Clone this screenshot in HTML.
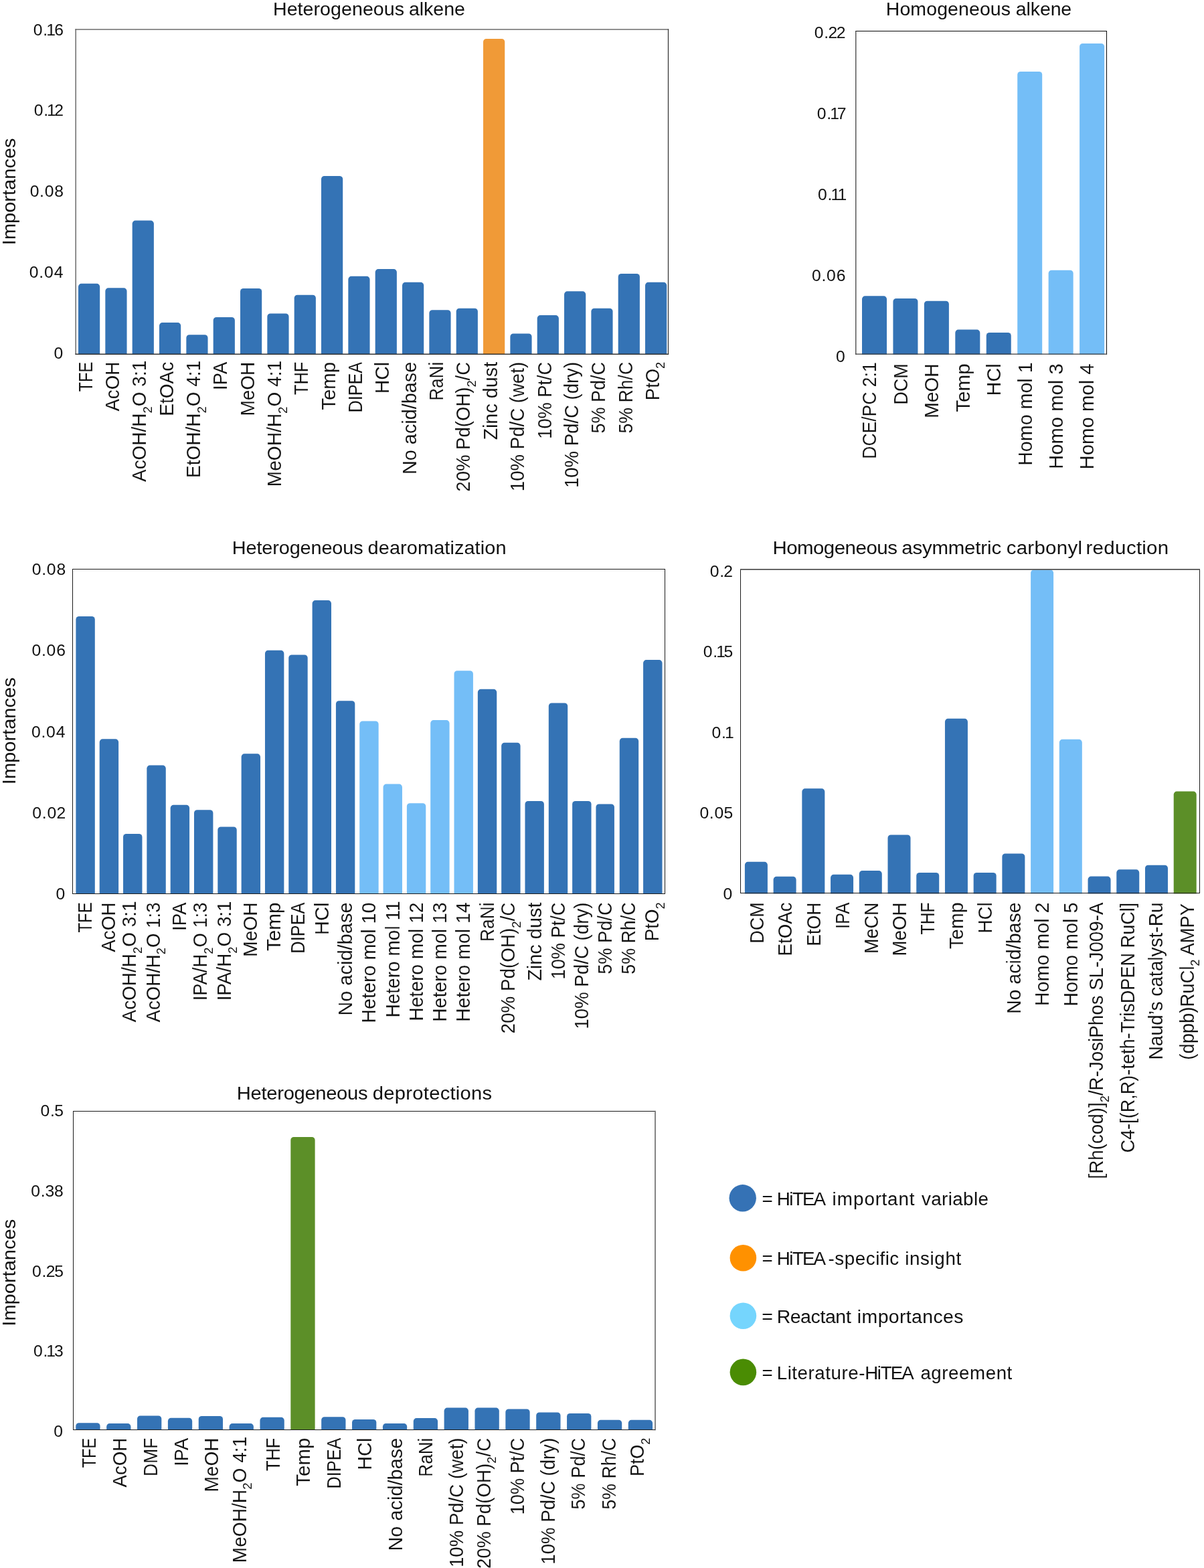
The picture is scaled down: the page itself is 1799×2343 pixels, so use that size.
<!DOCTYPE html>
<html lang="en">
<head>
<meta charset="utf-8">
<title>HiTEA variable importances</title>
<style>
html,body{margin:0;padding:0;background:#fff;}
body{width:1799px;height:2343px;overflow:hidden;font-family:"Liberation Sans", sans-serif;}
svg{display:block;}
text{white-space:pre;}
text.lb{stroke:#fff;stroke-width:0.08px;}
</style>
</head>
<body>
<svg width="1799" height="2343" viewBox="0 0 1799 2343" font-family='"Liberation Sans", sans-serif' fill="#111">
<g id="chart1">
<path fill="#3473b5" d="M117 529.7V428.4A4.6 4.6 0 0 1 121.6 423.8H144.6A4.6 4.6 0 0 1 149.2 428.4V529.7Z"/>
<path fill="#3473b5" d="M157.34 529.7V434.9A4.6 4.6 0 0 1 161.94 430.3H184.94A4.6 4.6 0 0 1 189.54 434.9V529.7Z"/>
<path fill="#3473b5" d="M197.67 529.7V334.2A4.6 4.6 0 0 1 202.27 329.6H225.27A4.6 4.6 0 0 1 229.87 334.2V529.7Z"/>
<path fill="#3473b5" d="M238 529.7V486.7A4.6 4.6 0 0 1 242.6 482.1H265.6A4.6 4.6 0 0 1 270.2 486.7V529.7Z"/>
<path fill="#3473b5" d="M278.34 529.7V504.8A4.6 4.6 0 0 1 282.94 500.2H305.94A4.6 4.6 0 0 1 310.54 504.8V529.7Z"/>
<path fill="#3473b5" d="M318.68 529.7V478.5A4.6 4.6 0 0 1 323.28 473.9H346.27A4.6 4.6 0 0 1 350.88 478.5V529.7Z"/>
<path fill="#3473b5" d="M359.01 529.7V435.5A4.6 4.6 0 0 1 363.61 430.9H386.61A4.6 4.6 0 0 1 391.21 435.5V529.7Z"/>
<path fill="#3473b5" d="M399.35 529.7V473A4.6 4.6 0 0 1 403.95 468.4H426.94A4.6 4.6 0 0 1 431.55 473V529.7Z"/>
<path fill="#3473b5" d="M439.68 529.7V445.3A4.6 4.6 0 0 1 444.28 440.7H467.28A4.6 4.6 0 0 1 471.88 445.3V529.7Z"/>
<path fill="#3473b5" d="M480.01 529.7V267.6A4.6 4.6 0 0 1 484.62 263H507.62A4.6 4.6 0 0 1 512.22 267.6V529.7Z"/>
<path fill="#3473b5" d="M520.35 529.7V417.4A4.6 4.6 0 0 1 524.95 412.8H547.95A4.6 4.6 0 0 1 552.55 417.4V529.7Z"/>
<path fill="#3473b5" d="M560.68 529.7V406.7A4.6 4.6 0 0 1 565.28 402.1H588.28A4.6 4.6 0 0 1 592.88 406.7V529.7Z"/>
<path fill="#3473b5" d="M601.02 529.7V426.4A4.6 4.6 0 0 1 605.62 421.8H628.62A4.6 4.6 0 0 1 633.22 426.4V529.7Z"/>
<path fill="#3473b5" d="M641.36 529.7V467.8A4.6 4.6 0 0 1 645.96 463.2H668.96A4.6 4.6 0 0 1 673.56 467.8V529.7Z"/>
<path fill="#3473b5" d="M681.69 529.7V465.3A4.6 4.6 0 0 1 686.29 460.7H709.29A4.6 4.6 0 0 1 713.89 465.3V529.7Z"/>
<path fill="#f09a37" d="M722.02 529.7V62.5A4.6 4.6 0 0 1 726.62 57.9H749.62A4.6 4.6 0 0 1 754.23 62.5V529.7Z"/>
<path fill="#3473b5" d="M762.36 529.7V503.1A4.6 4.6 0 0 1 766.96 498.5H789.96A4.6 4.6 0 0 1 794.56 503.1V529.7Z"/>
<path fill="#3473b5" d="M802.7 529.7V475.7A4.6 4.6 0 0 1 807.3 471.1H830.3A4.6 4.6 0 0 1 834.9 475.7V529.7Z"/>
<path fill="#3473b5" d="M843.03 529.7V439.9A4.6 4.6 0 0 1 847.63 435.3H870.63A4.6 4.6 0 0 1 875.23 439.9V529.7Z"/>
<path fill="#3473b5" d="M883.37 529.7V465.3A4.6 4.6 0 0 1 887.97 460.7H910.97A4.6 4.6 0 0 1 915.57 465.3V529.7Z"/>
<path fill="#3473b5" d="M923.7 529.7V413.6A4.6 4.6 0 0 1 928.3 409H951.3A4.6 4.6 0 0 1 955.9 413.6V529.7Z"/>
<path fill="#3473b5" d="M964.03 529.7V426.4A4.6 4.6 0 0 1 968.63 421.8H991.63A4.6 4.6 0 0 1 996.24 426.4V529.7Z"/>
<path d="M113.2 44H998.5" fill="none" stroke="#6b6b6b" stroke-width="1.5" stroke-linecap="square"/>
<path d="M113.2 44V529.2" fill="none" stroke="#6b6b6b" stroke-width="1.5" stroke-linecap="square"/>
<path d="M998.5 44V529.2" fill="none" stroke="#333" stroke-width="1.25" stroke-linecap="square"/>
<path d="M113.2 529.2H998.5" fill="none" stroke="#333" stroke-width="1.35" stroke-linecap="square"/>
<text transform="scale(1.0515 1)" x="387.97 407.67 422.83 430.42 445.58 454.68 469.85 485.03 500.2 515.37 530.54 545.72 560.89 574.49 580.97 596.06 602.06 615.62 630.69 645.77" y="23" font-size="27.2">Heterogeneous alkene</text>
<text class="tk" transform="scale(1.03 1)" x="48.33 62.39 67.16 78.81" y="52.7" font-size="24.0">0.16</text>
<text class="tk" transform="scale(1.03 1)" x="49.25 63.32 68.08 78.96" y="173.45" font-size="24.0">0.12</text>
<text class="tk" transform="scale(1.03 1)" x="43.33 57.39 64.78 78.96" y="294.2" font-size="24.0">0.08</text>
<text class="tk" transform="scale(1.03 1)" x="42.6 56.67 64.05 78.33" y="414.95" font-size="24.0">0.04</text>
<text class="tk" transform="scale(1.03 1)" x="78.18" y="535.7" font-size="24.0">0</text>
<text transform="translate(23.1 366.17) rotate(-90) scale(1.0675 1)" font-size="27.2">Importances</text>
<text class="lb" transform="translate(137.8 585.37) rotate(-90) scale(0.8222 1)" font-size="28.7">TFE</text>
<text class="lb" transform="translate(178.13 614.6) rotate(-90) scale(0.9642 1)" font-size="28.7">AcOH</text>
<text class="lb" transform="translate(218.47 720) rotate(-90) scale(0.9742 1)" font-size="28.7">AcOH/H<tspan font-size="19.0" dy="8.4" stroke-width="0">2</tspan><tspan dy="-8.4">O 3:1</tspan></text>
<text class="lb" transform="translate(258.81 621.79) rotate(-90) scale(0.9766 1)" font-size="28.7">EtOAc</text>
<text class="lb" transform="translate(299.14 713.89) rotate(-90) scale(0.9747 1)" font-size="28.7">EtOH/H<tspan font-size="19.0" dy="8.4" stroke-width="0">2</tspan><tspan dy="-8.4">O 4:1</tspan></text>
<text class="lb" transform="translate(339.48 582.94) rotate(-90) scale(0.9550 1)" font-size="28.7">IPA</text>
<text class="lb" transform="translate(379.81 621.58) rotate(-90) scale(0.9743 1)" font-size="28.7">MeOH</text>
<text class="lb" transform="translate(420.15 727.2) rotate(-90) scale(0.9793 1)" font-size="28.7">MeOH/H<tspan font-size="19.0" dy="8.4" stroke-width="0">2</tspan><tspan dy="-8.4">O 4:1</tspan></text>
<text class="lb" transform="translate(460.48 590.1) rotate(-90) scale(0.8836 1)" font-size="28.7">THF</text>
<text class="lb" transform="translate(500.81 612.76) rotate(-90) scale(1.0254 1)" font-size="28.7">Temp</text>
<text class="lb" transform="translate(541.15 616.57) rotate(-90) scale(0.8798 1)" font-size="28.7">DIPEA</text>
<text class="lb" transform="translate(581.49 588.22) rotate(-90) scale(0.9915 1)" font-size="28.7">HCl</text>
<text class="lb" transform="translate(621.82 708.95) rotate(-90) scale(1.0038 1)" font-size="28.7">No acid/base</text>
<text class="lb" transform="translate(662.16 598.74) rotate(-90) scale(0.9082 1)" font-size="28.7">RaNi</text>
<text class="lb" transform="translate(702.49 734.69) rotate(-90) scale(0.9601 1)" font-size="28.7">20% Pd(OH)<tspan font-size="19.0" dy="8.4" stroke-width="0">2</tspan><tspan dy="-8.4">/C</tspan></text>
<text class="lb" transform="translate(742.83 657.6) rotate(-90) scale(1.0031 1)" font-size="28.7">Zinc dust</text>
<text class="lb" transform="translate(783.16 734.13) rotate(-90) scale(0.9620 1)" font-size="28.7">10% Pd/C (wet)</text>
<text class="lb" transform="translate(823.5 655.7) rotate(-90) scale(0.9478 1)" font-size="28.7">10% Pt/C</text>
<text class="lb" transform="translate(863.83 729.12) rotate(-90) scale(0.9600 1)" font-size="28.7">10% Pd/C (dry)</text>
<text class="lb" transform="translate(904.17 647.55) rotate(-90) scale(0.9425 1)" font-size="28.7">5% Pd/C</text>
<text class="lb" transform="translate(944.5 647.53) rotate(-90) scale(0.9294 1)" font-size="28.7">5% Rh/C</text>
<text class="lb" transform="translate(984.84 598.14) rotate(-90) scale(0.9556 1)" font-size="28.7">PtO<tspan font-size="19.0" dy="8.4" stroke-width="0">2</tspan></text>
</g>
<g id="chart2">
<path fill="#3473b5" d="M1288 529.7V446.9A4.6 4.6 0 0 1 1292.6 442.3H1320.4A4.6 4.6 0 0 1 1325 446.9V529.7Z"/>
<path fill="#3473b5" d="M1334.44 529.7V450.6A4.6 4.6 0 0 1 1339.04 446H1366.84A4.6 4.6 0 0 1 1371.44 450.6V529.7Z"/>
<path fill="#3473b5" d="M1380.88 529.7V454.3A4.6 4.6 0 0 1 1385.48 449.7H1413.28A4.6 4.6 0 0 1 1417.88 454.3V529.7Z"/>
<path fill="#3473b5" d="M1427.32 529.7V497.2A4.6 4.6 0 0 1 1431.92 492.6H1459.72A4.6 4.6 0 0 1 1464.32 497.2V529.7Z"/>
<path fill="#3473b5" d="M1473.76 529.7V501.5A4.6 4.6 0 0 1 1478.36 496.9H1506.16A4.6 4.6 0 0 1 1510.76 501.5V529.7Z"/>
<path fill="#74bef7" d="M1520.2 529.7V111.5A4.6 4.6 0 0 1 1524.8 106.9H1552.6A4.6 4.6 0 0 1 1557.2 111.5V529.7Z"/>
<path fill="#74bef7" d="M1566.64 529.7V408.3A4.6 4.6 0 0 1 1571.24 403.7H1599.04A4.6 4.6 0 0 1 1603.64 408.3V529.7Z"/>
<path fill="#74bef7" d="M1613.08 529.7V69.5A4.6 4.6 0 0 1 1617.68 64.9H1645.48A4.6 4.6 0 0 1 1650.08 69.5V529.7Z"/>
<path d="M1278.8 46.5H1653.5" fill="none" stroke="#0a0a0a" stroke-width="1" stroke-linecap="square"/>
<path d="M1278.8 46.5V529.2" fill="none" stroke="#383838" stroke-width="1.25" stroke-linecap="square"/>
<path d="M1653.5 46.5V529.2" fill="none" stroke="#0a0a0a" stroke-width="1" stroke-linecap="square"/>
<path d="M1278.8 529.2H1653.5" fill="none" stroke="#383838" stroke-width="1.25" stroke-linecap="square"/>
<text transform="scale(1.0471 1)" x="1264.18 1283.93 1299.18 1321.95 1337.18 1352.4 1367.62 1382.85 1398.07 1413.3 1428.52 1442.12 1449.49 1464.54 1470.51 1484.01 1499.03 1514.06" y="23" font-size="27.2">Homogeneous alkene</text>
<text class="tk" transform="scale(1.03 1)" x="1181.43 1195.5 1201.43 1213.47" y="56.6" font-size="24.0">0.22</text>
<text class="tk" transform="scale(1.03 1)" x="1185.27 1199.34 1204.1 1214.2" y="177.62" font-size="24.0">0.17</text>
<text class="tk" transform="scale(1.03 1)" x="1186.53 1200.6 1205.37 1215.07" y="298.65" font-size="24.0">0.11</text>
<text class="tk" transform="scale(1.03 1)" x="1177.6 1191.67 1199.05 1213.33" y="419.67" font-size="24.0">0.06</text>
<text class="tk" transform="scale(1.03 1)" x="1212.7" y="540.7" font-size="24.0">0</text>
<text class="lb" transform="translate(1309.3 685.67) rotate(-90) scale(0.9236 1)" font-size="28.7">DCE/PC 2:1</text>
<text class="lb" transform="translate(1355.74 604.71) rotate(-90) scale(0.9395 1)" font-size="28.7">DCM</text>
<text class="lb" transform="translate(1402.18 624.8) rotate(-90) scale(0.9829 1)" font-size="28.7">MeOH</text>
<text class="lb" transform="translate(1448.62 615.66) rotate(-90) scale(1.0311 1)" font-size="28.7">Temp</text>
<text class="lb" transform="translate(1495.06 591.46) rotate(-90) scale(1.0069 1)" font-size="28.7">HCl</text>
<text class="lb" transform="translate(1541.5 695.84) rotate(-90) scale(0.9989 1)" font-size="28.7">Homo mol 1</text>
<text class="lb" transform="translate(1587.94 700.88) rotate(-90) scale(1.0186 1)" font-size="28.7">Homo mol 3</text>
<text class="lb" transform="translate(1634.38 701.49) rotate(-90) scale(1.0225 1)" font-size="28.7">Homo mol 4</text>
</g>
<g id="chart3">
<path fill="#3473b5" d="M113.4 1336V925.6A4.6 4.6 0 0 1 118 921H137.2A4.6 4.6 0 0 1 141.8 925.6V1336Z"/>
<path fill="#3473b5" d="M148.72 1336V1108.9A4.6 4.6 0 0 1 153.32 1104.3H172.52A4.6 4.6 0 0 1 177.12 1108.9V1336Z"/>
<path fill="#3473b5" d="M184.04 1336V1250.6A4.6 4.6 0 0 1 188.64 1246H207.84A4.6 4.6 0 0 1 212.44 1250.6V1336Z"/>
<path fill="#3473b5" d="M219.36 1336V1148.2A4.6 4.6 0 0 1 223.96 1143.6H243.16A4.6 4.6 0 0 1 247.76 1148.2V1336Z"/>
<path fill="#3473b5" d="M254.68 1336V1207.4A4.6 4.6 0 0 1 259.28 1202.8H278.48A4.6 4.6 0 0 1 283.08 1207.4V1336Z"/>
<path fill="#3473b5" d="M290 1336V1214.8A4.6 4.6 0 0 1 294.6 1210.2H313.8A4.6 4.6 0 0 1 318.4 1214.8V1336Z"/>
<path fill="#3473b5" d="M325.32 1336V1240.1A4.6 4.6 0 0 1 329.92 1235.5H349.12A4.6 4.6 0 0 1 353.72 1240.1V1336Z"/>
<path fill="#3473b5" d="M360.64 1336V1130.9A4.6 4.6 0 0 1 365.24 1126.3H384.44A4.6 4.6 0 0 1 389.04 1130.9V1336Z"/>
<path fill="#3473b5" d="M395.96 1336V976.4A4.6 4.6 0 0 1 400.56 971.8H419.76A4.6 4.6 0 0 1 424.36 976.4V1336Z"/>
<path fill="#3473b5" d="M431.28 1336V983A4.6 4.6 0 0 1 435.88 978.4H455.08A4.6 4.6 0 0 1 459.68 983V1336Z"/>
<path fill="#3473b5" d="M466.6 1336V901.7A4.6 4.6 0 0 1 471.2 897.1H490.4A4.6 4.6 0 0 1 495 901.7V1336Z"/>
<path fill="#3473b5" d="M501.92 1336V1051.8A4.6 4.6 0 0 1 506.52 1047.2H525.72A4.6 4.6 0 0 1 530.32 1051.8V1336Z"/>
<path fill="#74bef7" d="M537.24 1336V1082A4.6 4.6 0 0 1 541.84 1077.4H561.04A4.6 4.6 0 0 1 565.64 1082V1336Z"/>
<path fill="#74bef7" d="M572.56 1336V1176.2A4.6 4.6 0 0 1 577.16 1171.6H596.36A4.6 4.6 0 0 1 600.96 1176.2V1336Z"/>
<path fill="#74bef7" d="M607.88 1336V1204.8A4.6 4.6 0 0 1 612.48 1200.2H631.68A4.6 4.6 0 0 1 636.28 1204.8V1336Z"/>
<path fill="#74bef7" d="M643.2 1336V1080.7A4.6 4.6 0 0 1 647.8 1076.1H667A4.6 4.6 0 0 1 671.6 1080.7V1336Z"/>
<path fill="#74bef7" d="M678.52 1336V1006.8A4.6 4.6 0 0 1 683.12 1002.2H702.32A4.6 4.6 0 0 1 706.92 1006.8V1336Z"/>
<path fill="#3473b5" d="M713.84 1336V1034.4A4.6 4.6 0 0 1 718.44 1029.8H737.64A4.6 4.6 0 0 1 742.24 1034.4V1336Z"/>
<path fill="#3473b5" d="M749.16 1336V1114.4A4.6 4.6 0 0 1 753.76 1109.8H772.96A4.6 4.6 0 0 1 777.56 1114.4V1336Z"/>
<path fill="#3473b5" d="M784.48 1336V1201.6A4.6 4.6 0 0 1 789.08 1197H808.28A4.6 4.6 0 0 1 812.88 1201.6V1336Z"/>
<path fill="#3473b5" d="M819.8 1336V1055A4.6 4.6 0 0 1 824.4 1050.4H843.6A4.6 4.6 0 0 1 848.2 1055V1336Z"/>
<path fill="#3473b5" d="M855.12 1336V1201.6A4.6 4.6 0 0 1 859.72 1197H878.92A4.6 4.6 0 0 1 883.52 1201.6V1336Z"/>
<path fill="#3473b5" d="M890.44 1336V1206.1A4.6 4.6 0 0 1 895.04 1201.5H913.34A4.6 4.6 0 0 1 917.94 1206.1V1336Z"/>
<path fill="#3473b5" d="M925.76 1336V1107.4A4.6 4.6 0 0 1 930.36 1102.8H949.56A4.6 4.6 0 0 1 954.16 1107.4V1336Z"/>
<path fill="#3473b5" d="M961.08 1336V990.7A4.6 4.6 0 0 1 965.68 986.1H984.88A4.6 4.6 0 0 1 989.48 990.7V1336Z"/>
<rect x="108.5" y="850.5" width="885" height="485" fill="none" stroke="#1c1c1c" stroke-width="1"/>
<text transform="scale(1.0611 1)" x="326.79 346.29 361.32 368.78 383.81 392.76 407.76 422.77 437.77 452.77 467.77 482.77 497.78 511.38 517.88 533.13 548.38 563.61 572.77 588.05 610.86 626.08 633.7 639.82 653.54 668.76 676.38 682.51 697.77" y="827.6" font-size="27.2">Heterogeneous dearomatization</text>
<text class="tk" transform="scale(1.03 1)" x="46.29 60.36 67.74 81.92" y="858.9" font-size="24.0">0.08</text>
<text class="tk" transform="scale(1.03 1)" x="46.04 60.11 67.5 81.77" y="980.25" font-size="24.0">0.06</text>
<text class="tk" transform="scale(1.03 1)" x="45.56 59.63 67.02 81.29" y="1101.6" font-size="24.0">0.04</text>
<text class="tk" transform="scale(1.03 1)" x="46.97 61.03 68.42 81.92" y="1222.95" font-size="24.0">0.02</text>
<text class="tk" transform="scale(1.03 1)" x="81.14" y="1344.3" font-size="24.0">0</text>
<text transform="translate(23.1 1172.17) rotate(-90) scale(1.0689 1)" font-size="27.2">Importances</text>
<text class="lb" transform="translate(136.9 1393.57) rotate(-90) scale(0.8334 1)" font-size="28.7">TFE</text>
<text class="lb" transform="translate(172 1422.7) rotate(-90) scale(0.9707 1)" font-size="28.7">AcOH</text>
<text class="lb" transform="translate(203.4 1527.5) rotate(-90) scale(0.9736 1)" font-size="28.7">AcOH/H<tspan font-size="19.0" dy="8.4" stroke-width="0">2</tspan><tspan dy="-8.4">O 3:1</tspan></text>
<text class="lb" transform="translate(238.6 1527.5) rotate(-90) scale(0.9629 1)" font-size="28.7">AcOH/H<tspan font-size="19.0" dy="8.4" stroke-width="0">2</tspan><tspan dy="-8.4">O 1:3</tspan></text>
<text class="lb" transform="translate(278 1391.07) rotate(-90) scale(0.9669 1)" font-size="28.7">IPA</text>
<text class="lb" transform="translate(309.4 1495.35) rotate(-90) scale(0.9567 1)" font-size="28.7">IPA/H<tspan font-size="19.0" dy="8.4" stroke-width="0">2</tspan><tspan dy="-8.4">O 1:3</tspan></text>
<text class="lb" transform="translate(345.1 1495.37) rotate(-90) scale(0.9699 1)" font-size="28.7">IPA/H<tspan font-size="19.0" dy="8.4" stroke-width="0">2</tspan><tspan dy="-8.4">O 3:1</tspan></text>
<text class="lb" transform="translate(384.3 1429.7) rotate(-90) scale(0.9805 1)" font-size="28.7">MeOH</text>
<text class="lb" transform="translate(419.4 1421.16) rotate(-90) scale(1.0368 1)" font-size="28.7">Temp</text>
<text class="lb" transform="translate(454.9 1424.69) rotate(-90) scale(0.8857 1)" font-size="28.7">DIPEA</text>
<text class="lb" transform="translate(490.6 1397.19) rotate(-90) scale(1.0200 1)" font-size="28.7">HCl</text>
<text class="lb" transform="translate(525.7 1517.77) rotate(-90) scale(1.0110 1)" font-size="28.7">No acid/base</text>
<text class="lb" transform="translate(561.4 1528.64) rotate(-90) scale(0.9999 1)" font-size="28.7">Hetero mol 10</text>
<text class="lb" transform="translate(596.6 1520.59) rotate(-90) scale(0.9779 1)" font-size="28.7">Hetero mol 11</text>
<text class="lb" transform="translate(632 1525.71) rotate(-90) scale(0.9836 1)" font-size="28.7">Hetero mol 12</text>
<text class="lb" transform="translate(667.1 1526.92) rotate(-90) scale(0.9904 1)" font-size="28.7">Hetero mol 13</text>
<text class="lb" transform="translate(702.3 1526.92) rotate(-90) scale(0.9904 1)" font-size="28.7">Hetero mol 14</text>
<text class="lb" transform="translate(737.7 1406.96) rotate(-90) scale(0.9180 1)" font-size="28.7">RaNi</text>
<text class="lb" transform="translate(769.4 1544.51) rotate(-90) scale(0.9711 1)" font-size="28.7">20% Pd(OH)<tspan font-size="19.0" dy="8.4" stroke-width="0">2</tspan><tspan dy="-8.4">/C</tspan></text>
<text class="lb" transform="translate(808.6 1465.8) rotate(-90) scale(1.0083 1)" font-size="28.7">Zinc dust</text>
<text class="lb" transform="translate(843.7 1463.5) rotate(-90) scale(0.9494 1)" font-size="28.7">10% Pt/C</text>
<text class="lb" transform="translate(879.1 1537.83) rotate(-90) scale(0.9656 1)" font-size="28.7">10% Pd/C (dry)</text>
<text class="lb" transform="translate(914.3 1455.75) rotate(-90) scale(0.9478 1)" font-size="28.7">5% Pd/C</text>
<text class="lb" transform="translate(949.4 1455.74) rotate(-90) scale(0.9347 1)" font-size="28.7">5% Rh/C</text>
<text class="lb" transform="translate(984.3 1406.26) rotate(-90) scale(0.9643 1)" font-size="28.7">PtO<tspan font-size="19.0" dy="8.4" stroke-width="0">2</tspan></text>
</g>
<g id="chart4">
<path fill="#3473b5" d="M1112.9 1335.6V1292.4A4.6 4.6 0 0 1 1117.5 1287.8H1142.3A4.6 4.6 0 0 1 1146.9 1292.4V1335.6Z"/>
<path fill="#3473b5" d="M1155.62 1335.6V1314.4A4.6 4.6 0 0 1 1160.22 1309.8H1185.02A4.6 4.6 0 0 1 1189.62 1314.4V1335.6Z"/>
<path fill="#3473b5" d="M1198.34 1335.6V1182.9A4.6 4.6 0 0 1 1202.94 1178.3H1227.74A4.6 4.6 0 0 1 1232.34 1182.9V1335.6Z"/>
<path fill="#3473b5" d="M1241.06 1335.6V1311.4A4.6 4.6 0 0 1 1245.66 1306.8H1270.46A4.6 4.6 0 0 1 1275.06 1311.4V1335.6Z"/>
<path fill="#3473b5" d="M1283.78 1335.6V1305.7A4.6 4.6 0 0 1 1288.38 1301.1H1313.18A4.6 4.6 0 0 1 1317.78 1305.7V1335.6Z"/>
<path fill="#3473b5" d="M1326.5 1335.6V1252A4.6 4.6 0 0 1 1331.1 1247.4H1355.9A4.6 4.6 0 0 1 1360.5 1252V1335.6Z"/>
<path fill="#3473b5" d="M1369.22 1335.6V1308.5A4.6 4.6 0 0 1 1373.82 1303.9H1398.62A4.6 4.6 0 0 1 1403.22 1308.5V1335.6Z"/>
<path fill="#3473b5" d="M1411.94 1335.6V1078.4A4.6 4.6 0 0 1 1416.54 1073.8H1441.34A4.6 4.6 0 0 1 1445.94 1078.4V1335.6Z"/>
<path fill="#3473b5" d="M1454.66 1335.6V1308.5A4.6 4.6 0 0 1 1459.26 1303.9H1484.06A4.6 4.6 0 0 1 1488.66 1308.5V1335.6Z"/>
<path fill="#3473b5" d="M1497.38 1335.6V1280.1A4.6 4.6 0 0 1 1501.98 1275.5H1526.78A4.6 4.6 0 0 1 1531.38 1280.1V1335.6Z"/>
<path fill="#74bef7" d="M1540.1 1335.6V856A4.6 4.6 0 0 1 1544.7 851.4H1569.5A4.6 4.6 0 0 1 1574.1 856V1335.6Z"/>
<path fill="#74bef7" d="M1582.82 1335.6V1109.4A4.6 4.6 0 0 1 1587.42 1104.8H1612.22A4.6 4.6 0 0 1 1616.82 1109.4V1335.6Z"/>
<path fill="#3473b5" d="M1625.54 1335.6V1314.2A4.6 4.6 0 0 1 1630.14 1309.6H1654.94A4.6 4.6 0 0 1 1659.54 1314.2V1335.6Z"/>
<path fill="#3473b5" d="M1668.26 1335.6V1303.9A4.6 4.6 0 0 1 1672.86 1299.3H1697.66A4.6 4.6 0 0 1 1702.26 1303.9V1335.6Z"/>
<path fill="#3473b5" d="M1710.98 1335.6V1297.3A4.6 4.6 0 0 1 1715.58 1292.7H1740.38A4.6 4.6 0 0 1 1744.98 1297.3V1335.6Z"/>
<path fill="#5c8f28" d="M1753.7 1335.6V1187.2A4.6 4.6 0 0 1 1758.3 1182.6H1783.1A4.6 4.6 0 0 1 1787.7 1187.2V1335.6Z"/>
<rect x="1106.5" y="850.5" width="686" height="484" fill="none" stroke="#1c1c1c" stroke-width="1"/>
<path d="M1106 851H1793" fill="none" stroke="#5a5a5a" stroke-width="1.7"/>
<text transform="scale(1.0833 1)" x="1065.73 1084.85 1099.42 1121.51 1136.18 1150.85 1165.52 1180.19 1194.86 1209.53 1224.22 1237.82 1243.69 1258.63 1272.06 1285.43 1307.81 1330.23 1345.21 1352.66 1361.61 1367.52 1381.12 1388.06 1401.93 1417.29 1426.57 1441.98 1457.39 1472.79 1486.57 1492.62 1497.71 1507.06 1522.54 1538.02 1553.49 1567.35 1575.08 1581.38 1596.86" y="827.7" font-size="27.2">Homogeneous asymmetric carbonyl reduction</text>
<text class="tk" transform="scale(1.03 1)" x="1029.83 1043.9 1049.83" y="862" font-size="24.0">0.2</text>
<text class="tk" transform="scale(1.03 1)" x="1020.17 1034.24 1039.01 1050.07" y="982.45" font-size="24.0">0.15</text>
<text class="tk" transform="scale(1.03 1)" x="1032.6 1046.67 1051.43" y="1102.9" font-size="24.0">0.1</text>
<text class="tk" transform="scale(1.03 1)" x="1014.93 1029 1036.38 1050.07" y="1223.35" font-size="24.0">0.05</text>
<text class="tk" transform="scale(1.03 1)" x="1049.05" y="1343.8" font-size="24.0">0</text>
<text class="lb" transform="translate(1141 1409.7) rotate(-90) scale(0.9379 1)" font-size="28.7">DCM</text>
<text class="lb" transform="translate(1183.1 1428.46) rotate(-90) scale(0.9654 1)" font-size="28.7">EtOAc</text>
<text class="lb" transform="translate(1225.9 1413.69) rotate(-90) scale(0.9304 1)" font-size="28.7">EtOH</text>
<text class="lb" transform="translate(1268.7 1388.12) rotate(-90) scale(0.9000 1)" font-size="28.7">IPA</text>
<text class="lb" transform="translate(1311.5 1425.12) rotate(-90) scale(0.9434 1)" font-size="28.7">MeCN</text>
<text class="lb" transform="translate(1354.2 1428.47) rotate(-90) scale(0.9656 1)" font-size="28.7">MeOH</text>
<text class="lb" transform="translate(1395.9 1396.39) rotate(-90) scale(0.8601 1)" font-size="28.7">THF</text>
<text class="lb" transform="translate(1439.2 1418.25) rotate(-90) scale(0.9952 1)" font-size="28.7">Temp</text>
<text class="lb" transform="translate(1481.9 1394.46) rotate(-90) scale(0.9630 1)" font-size="28.7">HCl</text>
<text class="lb" transform="translate(1524.7 1515.03) rotate(-90) scale(0.9947 1)" font-size="28.7">No acid/base</text>
<text class="lb" transform="translate(1567.4 1503.14) rotate(-90) scale(1.0002 1)" font-size="28.7">Homo mol 2</text>
<text class="lb" transform="translate(1610.2 1503.85) rotate(-90) scale(1.0048 1)" font-size="28.7">Homo mol 5</text>
<text class="lb" transform="translate(1648.2 1761.54) rotate(-90) scale(0.9678 1)" font-size="28.7">[Rh(cod)]<tspan font-size="19.0" dy="8.4" stroke-width="0">2</tspan><tspan dy="-8.4">/R-JosiPhos SL-J009-A</tspan></text>
<text class="lb" transform="translate(1694.5 1722.57) rotate(-90) scale(0.9449 1)" font-size="28.7">C4-[(R,R)-teth-TrisDPEN RuCl]</text>
<text class="lb" transform="translate(1737.3 1583.39) rotate(-90) scale(0.9778 1)" font-size="28.7">Naud’s catalyst-Ru</text>
<text class="lb" transform="translate(1783.6 1583.68) rotate(-90) scale(0.9540 1)" font-size="28.7">(dppb)RuCl<tspan font-size="19.0" dy="8.4" stroke-width="0">2</tspan><tspan dy="-8.4"> AMPY</tspan></text>
</g>
<g id="chart5">
<path fill="#3473b5" d="M113.3 2137V2130.8A4.6 4.6 0 0 1 117.9 2126.2H145A4.6 4.6 0 0 1 149.6 2130.8V2137Z"/>
<path fill="#3473b5" d="M159.16 2137V2131.7A4.6 4.6 0 0 1 163.76 2127.1H190.86A4.6 4.6 0 0 1 195.46 2131.7V2137Z"/>
<path fill="#3473b5" d="M205.02 2137V2120A4.6 4.6 0 0 1 209.62 2115.4H236.72A4.6 4.6 0 0 1 241.32 2120V2137Z"/>
<path fill="#3473b5" d="M250.88 2137V2123.4A4.6 4.6 0 0 1 255.48 2118.8H282.58A4.6 4.6 0 0 1 287.18 2123.4V2137Z"/>
<path fill="#3473b5" d="M296.74 2137V2120.6A4.6 4.6 0 0 1 301.34 2116H328.44A4.6 4.6 0 0 1 333.04 2120.6V2137Z"/>
<path fill="#3473b5" d="M342.6 2137V2131.7A4.6 4.6 0 0 1 347.2 2127.1H374.3A4.6 4.6 0 0 1 378.9 2131.7V2137Z"/>
<path fill="#3473b5" d="M388.46 2137V2122.4A4.6 4.6 0 0 1 393.06 2117.8H420.16A4.6 4.6 0 0 1 424.76 2122.4V2137Z"/>
<path fill="#5c8f28" d="M434.32 2137V1703.6A4.6 4.6 0 0 1 438.92 1699H466.02A4.6 4.6 0 0 1 470.62 1703.6V2137Z"/>
<path fill="#3473b5" d="M480.18 2137V2121.8A4.6 4.6 0 0 1 484.78 2117.2H511.88A4.6 4.6 0 0 1 516.48 2121.8V2137Z"/>
<path fill="#3473b5" d="M526.04 2137V2125.5A4.6 4.6 0 0 1 530.64 2120.9H557.74A4.6 4.6 0 0 1 562.34 2125.5V2137Z"/>
<path fill="#3473b5" d="M571.9 2137V2131.7A4.6 4.6 0 0 1 576.5 2127.1H603.6A4.6 4.6 0 0 1 608.2 2131.7V2137Z"/>
<path fill="#3473b5" d="M617.76 2137V2123.7A4.6 4.6 0 0 1 622.36 2119.1H649.46A4.6 4.6 0 0 1 654.06 2123.7V2137Z"/>
<path fill="#3473b5" d="M663.62 2137V2108.2A4.6 4.6 0 0 1 668.22 2103.6H695.32A4.6 4.6 0 0 1 699.92 2108.2V2137Z"/>
<path fill="#3473b5" d="M709.48 2137V2108.2A4.6 4.6 0 0 1 714.08 2103.6H741.18A4.6 4.6 0 0 1 745.78 2108.2V2137Z"/>
<path fill="#3473b5" d="M755.34 2137V2110A4.6 4.6 0 0 1 759.94 2105.4H787.04A4.6 4.6 0 0 1 791.64 2110V2137Z"/>
<path fill="#3473b5" d="M801.2 2137V2115A4.6 4.6 0 0 1 805.8 2110.4H832.9A4.6 4.6 0 0 1 837.5 2115V2137Z"/>
<path fill="#3473b5" d="M847.06 2137V2116.5A4.6 4.6 0 0 1 851.66 2111.9H878.76A4.6 4.6 0 0 1 883.36 2116.5V2137Z"/>
<path fill="#3473b5" d="M892.92 2137V2126.4A4.6 4.6 0 0 1 897.52 2121.8H924.62A4.6 4.6 0 0 1 929.22 2126.4V2137Z"/>
<path fill="#3473b5" d="M938.78 2137V2126.4A4.6 4.6 0 0 1 943.38 2121.8H970.48A4.6 4.6 0 0 1 975.08 2126.4V2137Z"/>
<path d="M109.5 1660.5H978.5" fill="none" stroke="#1c1c1c" stroke-width="1" stroke-linecap="square"/>
<path d="M109.5 1660.5V2136.5" fill="none" stroke="#1c1c1c" stroke-width="1" stroke-linecap="square"/>
<path d="M979 1660.5V2136.5" fill="none" stroke="#666" stroke-width="1.6" stroke-linecap="square"/>
<path d="M109.5 2136.5H978.5" fill="none" stroke="#1c1c1c" stroke-width="1" stroke-linecap="square"/>
<text transform="scale(1.0497 1)" x="336.98 356.69 371.91 379.39 394.59 403.59 418.73 433.87 449.01 464.16 479.3 494.44 509.6 523.5 530.34 546.11 561.89 577.61 587.12 602.83 610.79 626.56 640.69 648.56 654.97 670.75 686.51" y="1643.1" font-size="27.8">Heterogeneous deprotections</text>
<text class="tk" transform="scale(1.03 1)" x="58.76 72.83 78.96" y="1668.4" font-size="24.0">0.5</text>
<text class="tk" transform="scale(1.03 1)" x="45.03 59.09 65.51 78.71" y="1788.1" font-size="24.0">0.38</text>
<text class="tk" transform="scale(1.03 1)" x="46.72 60.79 66.72 78.96" y="1907.8" font-size="24.0">0.25</text>
<text class="tk" transform="scale(1.03 1)" x="48.47 62.54 67.31 78.67" y="2027.5" font-size="24.0">0.13</text>
<text class="tk" transform="scale(1.03 1)" x="77.94" y="2147.2" font-size="24.0">0</text>
<text transform="translate(23.1 1981.67) rotate(-90) scale(1.0689 1)" font-size="27.2">Importances</text>
<text class="lb" transform="translate(143.4 2193.37) rotate(-90) scale(0.8259 1)" font-size="28.7">TFE</text>
<text class="lb" transform="translate(189.1 2222.5) rotate(-90) scale(0.9655 1)" font-size="28.7">AcOH</text>
<text class="lb" transform="translate(234.9 2205.97) rotate(-90) scale(0.9229 1)" font-size="28.7">DMF</text>
<text class="lb" transform="translate(280.6 2190.85) rotate(-90) scale(0.9573 1)" font-size="28.7">IPA</text>
<text class="lb" transform="translate(326.3 2229.49) rotate(-90) scale(0.9755 1)" font-size="28.7">MeOH</text>
<text class="lb" transform="translate(368 2335.2) rotate(-90) scale(0.9803 1)" font-size="28.7">MeOH/H<tspan font-size="19.0" dy="8.4" stroke-width="0">2</tspan><tspan dy="-8.4">O 4:1</tspan></text>
<text class="lb" transform="translate(417.7 2198) rotate(-90) scale(0.8854 1)" font-size="28.7">THF</text>
<text class="lb" transform="translate(463.4 2220.66) rotate(-90) scale(1.0268 1)" font-size="28.7">Temp</text>
<text class="lb" transform="translate(509.1 2224.48) rotate(-90) scale(0.8810 1)" font-size="28.7">DIPEA</text>
<text class="lb" transform="translate(554.9 2196.76) rotate(-90) scale(1.0069 1)" font-size="28.7">HCl</text>
<text class="lb" transform="translate(600.6 2317.56) rotate(-90) scale(1.0086 1)" font-size="28.7">No acid/base</text>
<text class="lb" transform="translate(646.3 2206.74) rotate(-90) scale(0.9115 1)" font-size="28.7">RaNi</text>
<text class="lb" transform="translate(692 2342.03) rotate(-90) scale(0.9625 1)" font-size="28.7">10% Pd/C (wet)</text>
<text class="lb" transform="translate(732.9 2343.9) rotate(-90) scale(0.9671 1)" font-size="28.7">20% Pd(OH)<tspan font-size="19.0" dy="8.4" stroke-width="0">2</tspan><tspan dy="-8.4">/C</tspan></text>
<text class="lb" transform="translate(782.9 2263.3) rotate(-90) scale(0.9461 1)" font-size="28.7">10% Pt/C</text>
<text class="lb" transform="translate(828.6 2337.63) rotate(-90) scale(0.9636 1)" font-size="28.7">10% Pd/C (dry)</text>
<text class="lb" transform="translate(874.3 2255.55) rotate(-90) scale(0.9443 1)" font-size="28.7">5% Pd/C</text>
<text class="lb" transform="translate(920 2255.54) rotate(-90) scale(0.9311 1)" font-size="28.7">5% Rh/C</text>
<text class="lb" transform="translate(962.3 2206.05) rotate(-90) scale(0.9573 1)" font-size="28.7">PtO<tspan font-size="19.0" dy="8.4" stroke-width="0">2</tspan></text>
</g>
<g id="legend">
<circle cx="1109.7" cy="1790.3" r="20.2" fill="#3572b5"/>
<text transform="scale(0.9996 1)" x="1138.93 1155.17 1161.19 1179.7 1184.45 1199.45 1215.94 1234.48 1244.1 1251.22 1275.61 1292.07 1308.33 1318.15 1326.63 1343.08 1359.3 1367.02 1377.44 1391.81 1407.68 1417.21 1423.74 1439.7 1455.52 1462.05" y="1800.8" font-size="27.8">= HiTEA important variable</text>
<circle cx="1110.4" cy="1879.7" r="19.8" fill="#ff9100"/>
<text transform="scale(0.9980 1)" x="1140.7 1156.93 1162.98 1181.52 1186.29 1201.32 1217.84 1240.03 1249.78 1264.28 1280.38 1296.44 1310.77 1317.26 1325.29 1331.9 1345.8 1354.86 1361.63 1377.88 1392.33 1399.1 1415.39 1431.48" y="1890" font-size="27.8">= HiTEA-specific insight</text>
<circle cx="1110.4" cy="1966.2" r="19.8" fill="#75d5fd"/>
<text transform="scale(1.0235 1)" x="1112.11 1128.34 1133.99 1153.59 1168.63 1183.69 1197.28 1204.68 1219.72 1234.86 1242.58 1251.32 1257.87 1281.52 1297.38 1313.16 1322.64 1330.67 1346.53 1362.37 1376.64 1392.48" y="1977.4" font-size="27.8">= Reactant importances</text>
<circle cx="1110.4" cy="2050.4" r="19.8" fill="#4a8c03"/>
<text transform="scale(0.9951 1)" x="1144.1 1160.34 1166.44 1182.45 1188.99 1197.3 1213.38 1223.26 1239.3 1247.61 1263.69 1273.57 1289.65 1298.63 1317.28 1322.15 1337.33 1354 1372.54 1382.18 1398.23 1414.18 1423.92 1439.97 1456.16 1480.04 1496.09 1512.01" y="2061.1" font-size="27.8">= Literature-HiTEA agreement</text>
</g>
</svg>
</body>
</html>
